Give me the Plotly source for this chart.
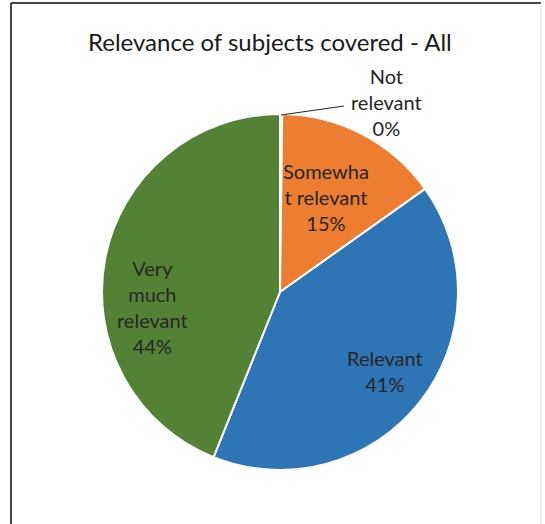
import plotly.graph_objects as go

# ---- data ----
categories = ["Not relevant", "Somewhat relevant", "Relevant", "Very much relevant"]
label_lines = ["Not<br>relevant", "Somewha<br>t relevant", "Relevant", "Very<br>much<br>relevant"]
values = [0.2, 15, 41, 44]
colors = ["#A5A5A5", "#ED7D31", "#2E75B6", "#548235"]
title_text = "Relevance of subjects covered - All"

W, H = 545, 524
total = sum(values)
pcts = [round(v / total * 100) for v in values]

fig = go.Figure(go.Pie(
    labels=categories,
    values=values,
    sort=False,
    direction="clockwise",
    rotation=0,
    marker=dict(colors=colors, line=dict(color="white", width=2)),
    textinfo="none",
    hoverinfo="label+percent",
    showlegend=False,
    domain=dict(x=[102 / W, 458 / W], y=[1 - 470 / H, 1 - 114 / H]),
))

def px(x, y):
    return x / W, 1 - y / H

# label centres (pixel positions in the figure)
label_pos = [(386, 102), (326, 197), (385, 371), (152, 307)]
font_lbl = dict(family="Lato, 'Open Sans', sans-serif", size=20, color="#262626")
annotations = []
for txt, p, (x, y) in zip(label_lines, pcts, label_pos):
    ax, ay = px(x, y)
    annotations.append(dict(
        text=f"{txt}<br>{p}%", x=ax, y=ay, xref="paper", yref="paper",
        xanchor="center", yanchor="middle", showarrow=False, font=font_lbl, align="center",
    ))
tx, ty = px(270, 42)
annotations.append(dict(
    text=title_text, x=tx, y=ty, xref="paper", yref="paper",
    xanchor="center", yanchor="middle", showarrow=False,
    font=dict(family="Lato, 'Open Sans', sans-serif", size=24, color="#1a1a1a"),
))

shapes = []
# leader line for tiny slice
x0, y0 = px(281, 115)
x1, y1 = px(344, 106)
shapes.append(dict(type="line", xref="paper", yref="paper", x0=x0, y0=y0, x1=x1, y1=y1,
                   line=dict(color="#222222", width=1)))
# chart border
bx0, by0 = px(11, 3)
bx1, _ = px(541, 3)
shapes.append(dict(type="line", xref="paper", yref="paper", x0=bx0, y0=by0, x1=bx1, y1=by0,
                   line=dict(color="#444444", width=2)))
shapes.append(dict(type="line", xref="paper", yref="paper", x0=bx0, y0=by0, x1=bx0, y1=-0.05,
                   line=dict(color="#444444", width=2)))
shapes.append(dict(type="line", xref="paper", yref="paper", x0=bx1, y0=by0, x1=bx1, y1=-0.05,
                   line=dict(color="#DDDDDD", width=1)))

fig.update_layout(
    width=W, height=H,
    margin=dict(l=0, r=0, t=0, b=0),
    paper_bgcolor="white", plot_bgcolor="white",
    annotations=annotations, shapes=shapes,
)

fig.write_html("out.html")
